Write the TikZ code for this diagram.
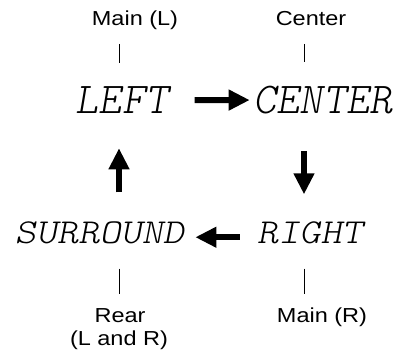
\documentclass[tikz,border=0pt]{standalone}
\usepackage{fontspec}
\setmainfont{Liberation Sans}
\usetikzlibrary{arrows.meta}

\begin{document}
\begin{tikzpicture}[
  x=0.025cm, y=-0.025cm,
  lbl/.style={inner sep=0pt, anchor=base, xscale=1.16, text height=0.75em, text depth=0.25em,
              font=\fontsize{14.4}{17}\selectfont},
  segbig/.style={inner sep=0pt, anchor=base,
              font=\fontsize{31.3}{36}\fontfamily{lmtt}\fontseries{l}\fontshape{sl}\selectfont},
  segsmall/.style={inner sep=0pt, anchor=base, xscale=1.15,
              font=\fontsize{24.9}{29}\fontfamily{lmtt}\fontseries{l}\fontshape{sl}\selectfont},
  tick/.style={line width=0.7pt},
  bigarrow/.style={line width=4.3pt, -{Triangle[length=15pt, width=14pt]}}
]
  \useasboundingbox (0,0) rectangle (400,351);

  % columns of the ticks and vertical arrows
  \coordinate (colL) at (119,0);
  \coordinate (colR) at (304,0);

  % display words
  \node[segbig]   (left)  at (122,113.5) {LEFT};
  \node[segbig]   (center) at (323,113.5) {CENTER};
  \node[segsmall] (surr)  at (99.5,243) {SURROUND};
  \node[segsmall] (right) at (310,243) {RIGHT};

  % speaker labels
  \node[lbl] (mainL)  at (135,25.7) {Main (L)};
  \node[lbl] (ctrlbl) at (311,25.7) {Center};
  \node[lbl] (rear)   at (120,322)  {Rear};
  \node[lbl] (rearLR) at (119,345)  {(L and R)};
  \node[lbl] (mainR)  at (322,322)  {Main (R)};

  % ticks
  \draw[tick, shorten <=10.2pt, shorten >=16.8pt] (mainL.south -| colL) -- (left.north -| colL);
  \draw[tick, shorten <=10.2pt, shorten >=16.8pt] (ctrlbl.south -| colR) -- (center.north -| colR);
  \draw[tick, shorten <=17.8pt, shorten >=12.1pt] (surr.south -| colL) -- (rear.north -| colL);
  \draw[tick, shorten <=17.8pt, shorten >=12.1pt] (right.south -| colR) -- (mainR.north -| colR);

  % cycle
  \draw[bigarrow, shorten <=18.5pt, shorten >=2.6pt] (left.east) -- (center.west);
  \draw[bigarrow, shorten <=26pt, shorten >=18.9pt] (center.south -| colR) -- (right.north -| colR);
  \draw[bigarrow, shorten <=12pt, shorten >=7.8pt] ([yshift=-3.5pt]right.west) -- ([yshift=-3.5pt]surr.east);
  \draw[bigarrow, shorten <=20.3pt, shorten >=24.5pt] (surr.north -| colL) -- (left.south -| colL);
\end{tikzpicture}
\end{document}
